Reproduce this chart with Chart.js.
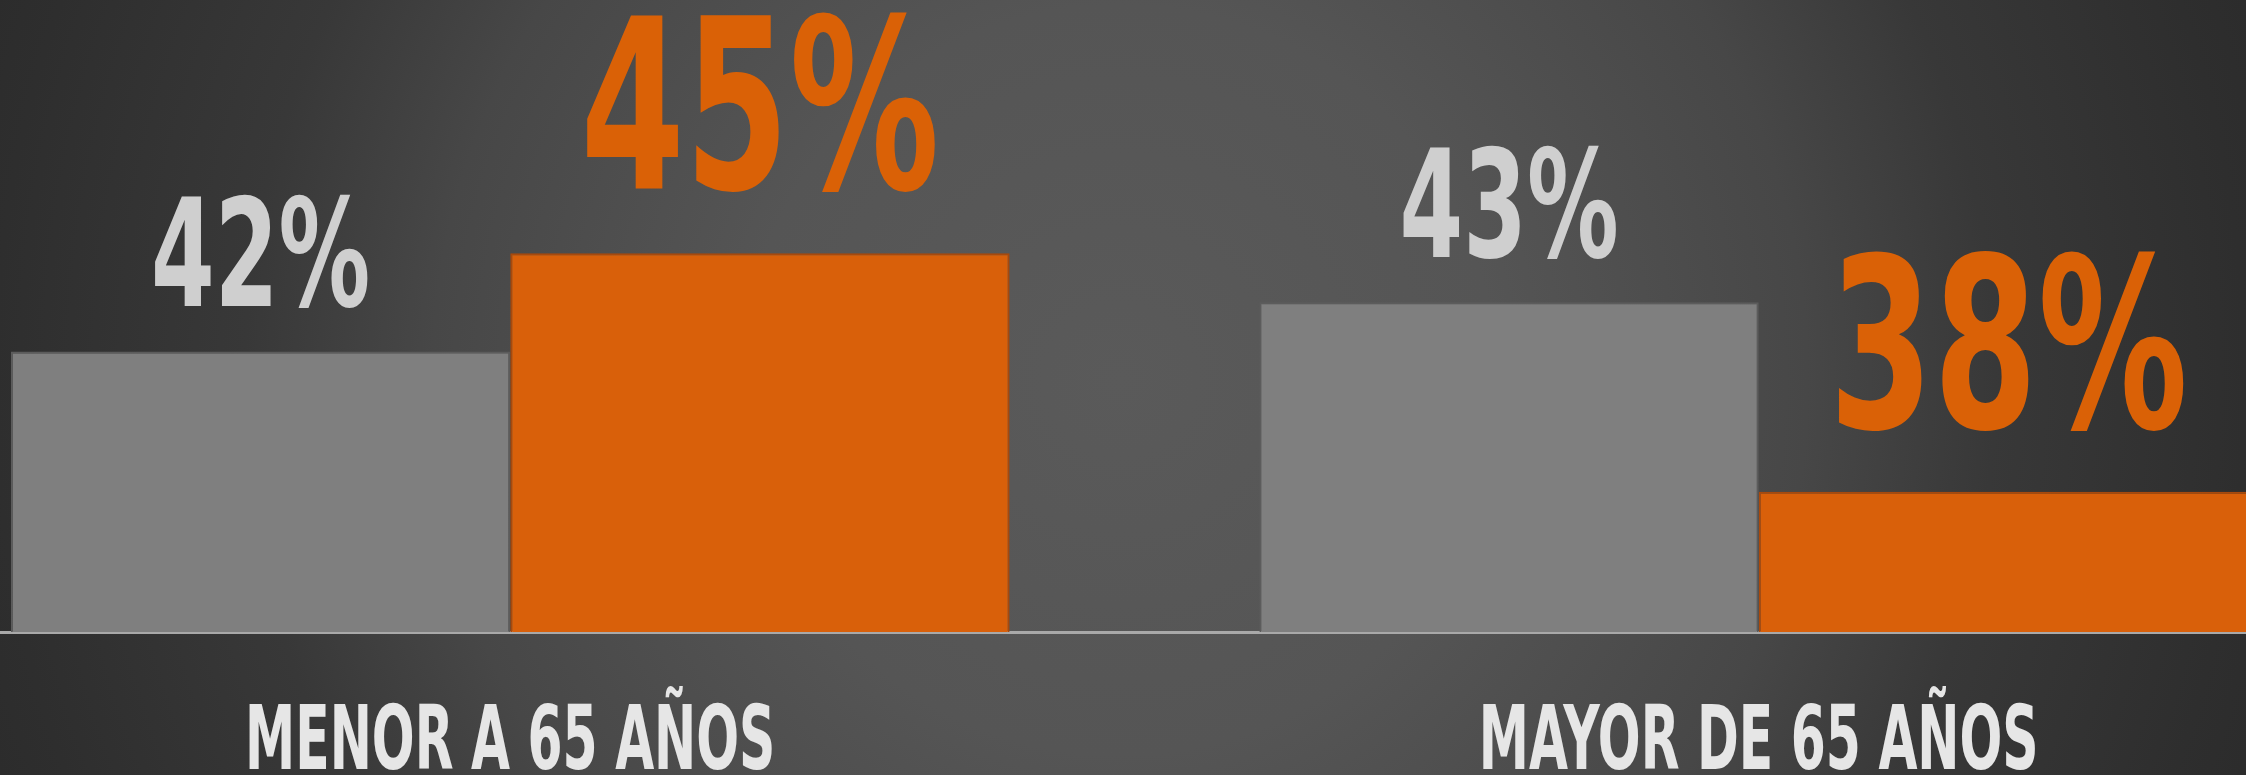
<!DOCTYPE html>
<html>
<head>
<meta charset="utf-8">
<script src="https://cdn.jsdelivr.net/npm/chart.js@4.4.0/dist/chart.umd.min.js"></script>
<style>
    html, body {
        margin: 0;
        padding: 0;
        width: 2246px;
        height: 775px;
        overflow: hidden;
    }
    body {
        background: radial-gradient(circle 1250px at 1120px 380px,
            #5a5a5a 0%, #555555 30%, #474747 55%, #383838 70%, #2e2e2e 90%, #2a2a2a 100%);
    }
    #wrap {
        position: absolute;
        left: -114px;
        top: 0;
        width: 2497px;
        height: 775px;
    }
</style>
</head>
<body>
<div id="wrap"><canvas id="myChart" width="2497" height="775"></canvas></div>
<script>
var categories = ['MENOR A 65 AÑOS', 'MAYOR DE 65 AÑOS'];
var grayValues = [42.0, 43.4];
var orangeValues = [44.8, 38.0];
var yMin = 34;
var yMax = 51.95;

var barLabels = {
    id: 'barLabels',
    afterDatasetsDraw: function (chart) {
        var ctx = chart.ctx;
        chart.data.datasets.forEach(function (ds, i) {
            var meta = chart.getDatasetMeta(i);
            var size = i === 0 ? 150 : 238;
            var gap = i === 0 ? 45 : 64;
            meta.data.forEach(function (bar, j) {
                ctx.save();
                ctx.font = 'bold ' + size + 'px "DejaVu Sans"';
                ctx.fillStyle = ds.labelColor;
                ctx.textAlign = 'center';
                ctx.textBaseline = 'alphabetic';
                ctx.translate(bar.x, bar.y - gap);
                ctx.scale(i === 0 ? 0.61 : 0.63, 1);
                ctx.fillText(Math.round(ds.data[j]) + '%', 0, 0);
                ctx.restore();
            });
        });

        // category names under the axis
        var xScale = chart.scales.x;
        chart.data.labels.forEach(function (lab, j) {
            ctx.save();
            ctx.font = 'bold 89px "DejaVu Sans"';
            ctx.fillStyle = '#e6e6e6';
            ctx.textAlign = 'center';
            ctx.textBaseline = 'alphabetic';
            ctx.translate(xScale.getPixelForValue(j), 769);
            ctx.scale(0.566, 1);
            ctx.fillText(lab, 0, 0);
            ctx.restore();
        });
    }
};

var ctx1 = document.getElementById('myChart').getContext('2d');
var myChart = new Chart(ctx1, {
    type: 'bar',
    data: {
        labels: categories,
        datasets: [{
                label: 'Gris',
                data: grayValues,
                backgroundColor: '#7f7f7f',
                borderColor: '#5c5c5c',
                borderWidth: 2,
                labelColor: '#cfcfcf'
            },
            {
                label: 'Naranja',
                data: orangeValues,
                backgroundColor: '#d9600a',
                borderColor: '#a8490c',
                borderWidth: 2,
                labelColor: '#da6106'
            }
        ]
    },
    options: {
        responsive: false,
        animation: false,
        layout: {
            padding: { top: 2.5, bottom: 135, left: 0, right: 0 }
        },
        datasets: {
            bar: {
                categoryPercentage: 0.8,
                barPercentage: 1.0
            }
        },
        scales: {
            y: {
                display: false,
                min: yMin,
                max: yMax
            },
            x: {
                z: 1,
                grid: { display: false },
                ticks: { display: false },
                border: { display: true, color: '#a9a9a9', width: 3 }
            }
        },
        plugins: {
            legend: { display: false },
            tooltip: { enabled: false },
            title: { display: false }
        }
    },
    plugins: [barLabels]
});
</script>
</body>
</html>
